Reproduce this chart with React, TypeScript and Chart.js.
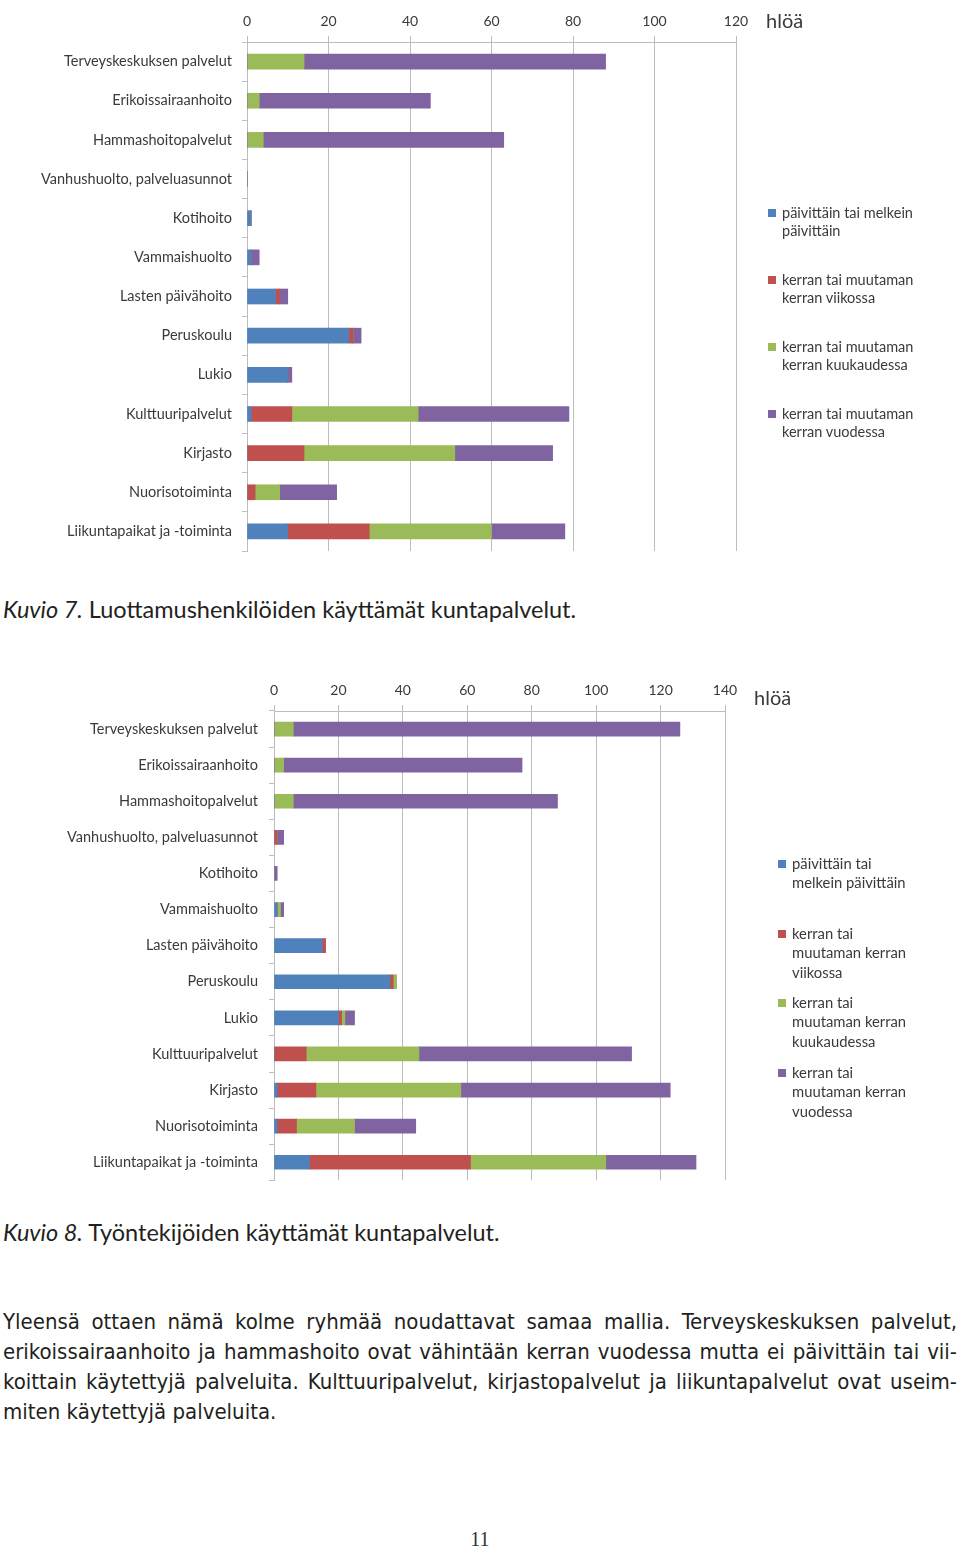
import React, { useEffect, useRef } from "react";
import { Chart, registerables } from "chart.js";

Chart.register(...registerables);

const categories = [
  "Terveyskeskuksen palvelut",
  "Erikoissairaanhoito",
  "Hammashoitopalvelut",
  "Vanhushuolto, palveluasunnot",
  "Kotihoito",
  "Vammaishuolto",
  "Lasten päivähoito",
  "Peruskoulu",
  "Lukio",
  "Kulttuuripalvelut",
  "Kirjasto",
  "Nuorisotoiminta",
  "Liikuntapaikat ja -toiminta",
];

const seriesColors = ["#4F81BD", "#C0504D", "#9BBB59", "#8064A2"];

// Kuvio 7 – luottamushenkilöt
const daily1 = [0, 0, 0, 0, 1, 1, 7, 25, 10, 1, 0, 0, 10];
const weekly1 = [0, 0, 0, 0, 0, 0, 1, 1, 0, 10, 14, 2, 20];
const monthly1 = [14, 3, 4, 0, 0, 0, 0, 0, 0, 31, 37, 6, 30];
const yearly1 = [74, 42, 59, 0, 0, 2, 2, 2, 1, 37, 24, 14, 18];

// Kuvio 8 – työntekijät
const daily2 = [0, 0, 0, 0, 0, 1, 15, 36, 20, 0, 1, 1, 11];
const weekly2 = [0, 0, 0, 1, 0, 0, 1, 1, 1, 10, 12, 6, 50];
const monthly2 = [6, 3, 6, 0, 0, 1, 0, 1, 1, 35, 45, 18, 42];
const yearly2 = [120, 74, 82, 2, 1, 1, 0, 0, 3, 66, 65, 19, 28];

const legend1 = [
  ["päivittäin tai melkein", "päivittäin"],
  ["kerran tai muutaman", "kerran viikossa"],
  ["kerran tai muutaman", "kerran kuukaudessa"],
  ["kerran tai muutaman", "kerran vuodessa"],
];
const legend2 = [
  ["päivittäin tai", "melkein päivittäin"],
  ["kerran tai", "muutaman kerran", "viikossa"],
  ["kerran tai", "muutaman kerran", "kuukaudessa"],
  ["kerran tai", "muutaman kerran", "vuodessa"],
];

const axisUnit = "hlöä";
const xMax1 = 120;
const xMax2 = 140;
const xStep = 20;

const paragraphLines = [
  "Yleensä ottaen nämä kolme ryhmää noudattavat samaa mallia. Terveyskeskuksen palvelut,",
  "erikoissairaanhoito ja hammashoito ovat vähintään kerran vuodessa mutta ei päivittäin tai vii-",
  "koittain käytettyjä palveluita. Kulttuuripalvelut, kirjastopalvelut ja liikuntapalvelut ovat useim-",
  "miten käytettyjä palveluita.",
];

const TEXT = "#3a3a3a";
const GRID = "#BDBDBD";
const FONT = "Lato, 'Open Sans', sans-serif";

type ChartProps = {
  series: number[][];
  xMax: number;
  top: number;
  height: number;
  axisWidth: number;
  plotRight: number;
  axisHeight: number;
  bottomPad: number;
  barThickness: number;
  labelPad: number;
};

function BarChart(p: ChartProps) {
  const ref = useRef<HTMLCanvasElement | null>(null);
  useEffect(() => {
    if (!ref.current) return;
    const chart = new Chart(ref.current, {
      type: "bar",
      data: {
        labels: categories,
        datasets: p.series.map((vals, i) => ({
          label: legend1[i].join(" "),
          data: vals,
          backgroundColor: seriesColors[i],
          borderWidth: 0,
          barThickness: p.barThickness,
        })),
      },
      options: {
        indexAxis: "y",
        responsive: false,
        maintainAspectRatio: false,
        animation: false,
        layout: { padding: { left: 0, right: 960 - p.plotRight, top: 0, bottom: p.bottomPad } },
        plugins: { legend: { display: false }, tooltip: { enabled: false } },
        scales: {
          x: {
            type: "linear",
            position: "top",
            stacked: true,
            min: 0,
            max: p.xMax,
            ticks: { stepSize: xStep, color: TEXT, font: { family: FONT, size: 14 }, padding: 6 },
            grid: { color: GRID, lineWidth: 1, tickLength: 6 },
            border: { color: GRID },
            afterFit: (s: any) => {
              s.height = p.axisHeight;
            },
          },
          y: {
            stacked: true,
            ticks: { color: TEXT, font: { family: FONT, size: 14.5 }, padding: p.labelPad, autoSkip: false },
            grid: { drawOnChartArea: false, tickLength: 5, color: GRID },
            border: { color: GRID },
            afterFit: (s: any) => {
              s.width = p.axisWidth;
            },
          },
        },
      },
    } as any);
    return () => chart.destroy();
  }, []);
  return (
    <canvas
      ref={ref}
      width={960}
      height={p.height}
      style={{ position: "absolute", left: 0, top: p.top, width: 960, height: p.height }}
    />
  );
}

function Legend({ items, left, tops, lineH, size }: { items: string[][]; left: number; tops: number[]; lineH: number; size: number }) {
  return (
    <>
      {items.map((lines, i) => (
        <div key={i} style={{ position: "absolute", left, top: tops[i], fontFamily: FONT, fontSize: size, color: TEXT, lineHeight: lineH + "px" }}>
          <span
            style={{
              position: "absolute",
              left: -14,
              top: (lineH - 8) / 2,
              width: 8,
              height: 8,
              background: seriesColors[i],
            }}
          />
          {lines.map((l, j) => (
            <div key={j} style={{ whiteSpace: "nowrap" }}>{l}</div>
          ))}
        </div>
      ))}
    </>
  );
}

const captionStyle: React.CSSProperties = {
  position: "absolute",
  left: 3,
  fontFamily: "Lato, 'Open Sans', sans-serif",
  fontSize: 23.5,
  color: "#231F20",
  whiteSpace: "nowrap",
  lineHeight: "30px",
};

export default function App() {
  return (
    <div style={{ position: "absolute", left: 0, top: 0, width: 960, height: 1549, background: "#fff", overflow: "hidden" }}>
      <BarChart
        series={[daily1, weekly1, monthly1, yearly1]}
        xMax={xMax1}
        top={0}
        height={570}
        axisWidth={247}
        plotRight={736}
        axisHeight={42}
        bottomPad={19}
        barThickness={15}
        labelPad={10}
      />
      <div style={{ position: "absolute", left: 766, top: 8, fontFamily: FONT, fontSize: 20, color: TEXT, lineHeight: "24px" }}>{axisUnit}</div>
      <Legend items={legend1} left={782} tops={[204, 271, 338, 405]} lineH={18} size={14.5} />

      <div style={{ ...captionStyle, top: 594 }}>
        <i>Kuvio 7.</i> Luottamushenkilöiden käyttämät kuntapalvelut.
      </div>

      <BarChart
        series={[daily2, weekly2, monthly2, yearly2]}
        xMax={xMax2}
        top={670}
        height={530}
        axisWidth={274}
        plotRight={725}
        axisHeight={41}
        bottomPad={16}
        barThickness={14}
        labelPad={11}
      />
      <div style={{ position: "absolute", left: 754, top: 685, fontFamily: FONT, fontSize: 20, color: TEXT, lineHeight: "24px" }}>{axisUnit}</div>
      <Legend items={legend2} left={792} tops={[854, 924, 993, 1063]} lineH={19.3} size={14.8} />

      <div style={{ ...captionStyle, top: 1217 }}>
        <i>Kuvio 8.</i> Työntekijöiden käyttämät kuntapalvelut.
      </div>

      {paragraphLines.map((line, i) => (
        <div
          key={i}
          style={{
            position: "absolute",
            left: 3,
            width: 954,
            top: 1307 + i * 30,
            fontFamily: "'Liberation Sans Narrow', 'DejaVu Sans Condensed', sans-serif",
            fontSize: 22,
            color: "#231F20",
            lineHeight: "30px",
            whiteSpace: "nowrap",
            textAlign: i < paragraphLines.length - 1 ? "justify" : "left",
            textAlignLast: i < paragraphLines.length - 1 ? "justify" : "left",
          }}
        >
          {line}
        </div>
      ))}

      <div style={{ position: "absolute", left: 0, width: 960, top: 1527, textAlign: "center", fontFamily: "'Liberation Serif', serif", fontSize: 20, color: "#333", lineHeight: "24px" }}>
        11
      </div>
    </div>
  );
}
